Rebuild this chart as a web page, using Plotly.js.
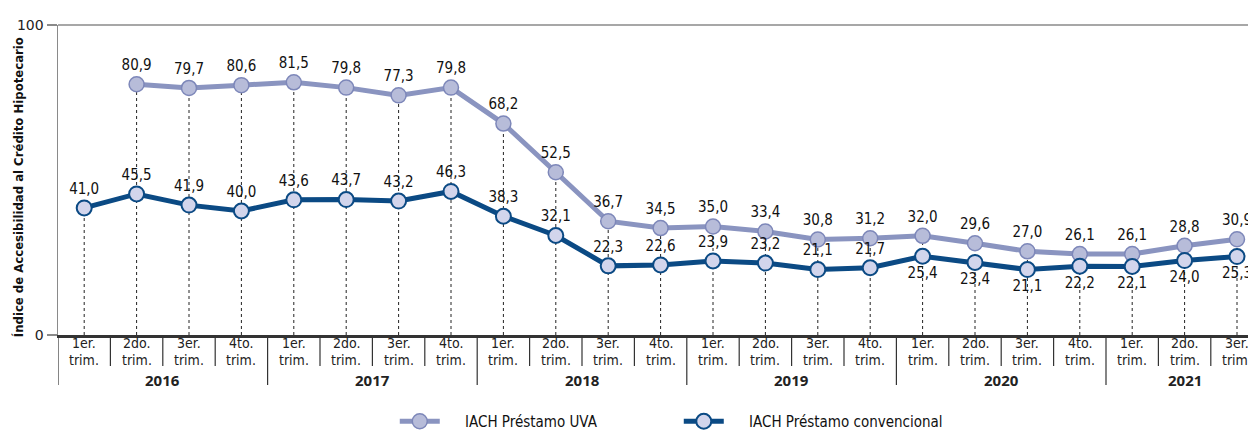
<!DOCTYPE html>
<html>
<head>
<meta charset="utf-8">
<script src="https://cdn.plot.ly/plotly-3.0.1.min.js"></script>
<style>
html,body{margin:0;padding:0;background:#fff;overflow:hidden;}
#chart{width:1248px;height:432px;}
</style>
</head>
<body>
<div id="chart"></div>
<script>
// ---- Data ----
var quarterTop = ["1er.","2do.","3er.","4to.",
                  "1er.","2do.","3er.","4to.",
                  "1er.","2do.","3er.","4to.",
                  "1er.","2do.","3er.","4to.",
                  "1er.","2do.","3er.","4to.",
                  "1er.","2do.","3er."];
var quarterBottom = "trim.";
var years = ["2016","2017","2018","2019","2020","2021"];
var quartersPerYear = [4,4,4,4,4,3];
var uva = [null,80.9,79.7,80.6,81.5,79.8,77.3,79.8,68.2,52.5,36.7,34.5,35.0,33.4,30.8,31.2,32.0,29.6,27.0,26.1,26.1,28.8,30.9];
var conv = [41.0,45.5,41.9,40.0,43.6,43.7,43.2,46.3,38.3,32.1,22.3,22.6,23.9,23.2,21.1,21.7,25.4,23.4,21.1,22.2,22.1,24.0,25.3];
var uvaName = "IACH Préstamo UVA";
var convName = "IACH Préstamo convencional";
var yTitle = "Índice de Accesibilidad al Crédito Hipotecario";
var yTicks = [0, 100];

// ---- Build ----
var idx = quarterTop.map(function(_, i){ return i; });
function fmt(v){ return v === null ? "" : v.toFixed(1).replace(".", ","); }

var condensed = "DejaVu Sans Condensed, DejaVu Sans, sans-serif";
var labelFont = {family: condensed, size: 15, color: "#111"};
var convPos = conv.map(function(_, i){ return i >= 16 ? "bottom center" : "top center"; });
var pad = "\u2003\u2002";

var traces = [
  {
    x: idx, y: uva, name: pad + uvaName, type: "scatter", mode: "lines+markers+text",
    text: uva.map(fmt), textposition: "top center", textfont: labelFont,
    cliponaxis: false, connectgaps: false,
    line: {color: "#8a94c0", width: 5},
    marker: {size: 15, color: "#b7bcd9", line: {color: "#7d87b9", width: 1.5}},
    hoverinfo: "skip"
  },
  {
    x: idx, y: conv, name: pad + convName, type: "scatter", mode: "lines+markers+text",
    text: conv.map(fmt), textposition: convPos, textfont: labelFont,
    cliponaxis: false,
    line: {color: "#0b4a84", width: 5},
    marker: {size: 15, color: "#d2d5ec", line: {color: "#0b4a84", width: 2}},
    hoverinfo: "skip"
  }
];

var plotH = 310, plotW = 1190;
var shapes = [];
// dashed drop lines from the top marker to the axis
idx.forEach(function(i){
  var top = Math.max(uva[i] === null ? -Infinity : uva[i], conv[i]);
  shapes.push({type: "line", xref: "x", yref: "y", x0: i, x1: i, y0: 0, y1: top,
    line: {color: "#222", width: 1, dash: "3px,3px"}, layer: "below"});
});
// quarter dividers and year dividers
var yearStarts = [];
var acc = 0;
quartersPerYear.forEach(function(n){ yearStarts.push(acc); acc += n; });
for (var b = 0; b <= quarterTop.length; b++) {
  var isYear = yearStarts.indexOf(b) >= 0;
  shapes.push({type: "line", xref: "x", yref: "paper", x0: b - 0.5, x1: b - 0.5,
    y0: 0, y1: isYear ? -50/plotH : -31/plotH,
    line: {color: "#333", width: 1.2}});
}
// top frame line
shapes.push({type: "line", xref: "paper", yref: "paper", x0: 0, x1: 1, y0: 1, y1: 1,
  line: {color: "#8a8a8a", width: 1.5}});

var annotations = [];
var qFont = {family: condensed, size: 14, color: "#222"};
idx.forEach(function(i){
  annotations.push({xref: "x", yref: "paper", x: i, y: -8/plotH, text: quarterTop[i],
    showarrow: false, xanchor: "center", yanchor: "middle", font: qFont});
  annotations.push({xref: "x", yref: "paper", x: i, y: -25/plotH, text: quarterBottom,
    showarrow: false, xanchor: "center", yanchor: "middle", font: qFont});
});
years.forEach(function(y, k){
  annotations.push({xref: "x", yref: "paper", x: yearStarts[k] + (quartersPerYear[k] - 1) / 2,
    y: -45/plotH, text: "<b>" + y + "</b>", showarrow: false,
    xanchor: "center", yanchor: "middle",
    font: {family: "Noto Sans, DejaVu Sans, sans-serif", size: 15, color: "#222"}});
});
annotations.push({xref: "paper", yref: "paper", x: -40/plotW, y: 0.477,
  text: "<b>" + yTitle + "</b>", textangle: -90, showarrow: false,
  xanchor: "center", yanchor: "middle",
  font: {family: condensed, size: 13, color: "#111"}});

var layout = {
  width: 1248, height: 432,
  margin: {l: 58, r: 0, t: 25, b: 97, autoexpand: false},
  paper_bgcolor: "#fff", plot_bgcolor: "#fff",
  showlegend: true,
  legend: {orientation: "h", x: 0.283, xanchor: "left", y: -0.279, yanchor: "middle",
    font: {family: condensed, size: 15, color: "#111"},
    itemwidth: 40, entrywidth: 229, entrywidthmode: "pixels"},
  xaxis: {
    range: [-0.5, 22.21], showticklabels: false,
    ticks: "", showgrid: false, zeroline: false,
    showline: true, linecolor: "#333", linewidth: 2.5, fixedrange: true
  },
  yaxis: {
    range: [0, 100], tickmode: "array", tickvals: yTicks, ticktext: yTicks.map(String),
    ticks: "outside", ticklen: 10, tickcolor: "#8a8a8a", tickwidth: 1.5,
    showgrid: false, zeroline: false, showline: true, linecolor: "#8a8a8a", linewidth: 1.5,
    tickfont: {family: "DejaVu Sans, sans-serif", size: 14, color: "#222"},
    fixedrange: true
  },
  shapes: shapes,
  annotations: annotations
};

Plotly.newPlot("chart", traces, layout, {displayModeBar: false, staticPlot: true});
</script>
</body>
</html>
